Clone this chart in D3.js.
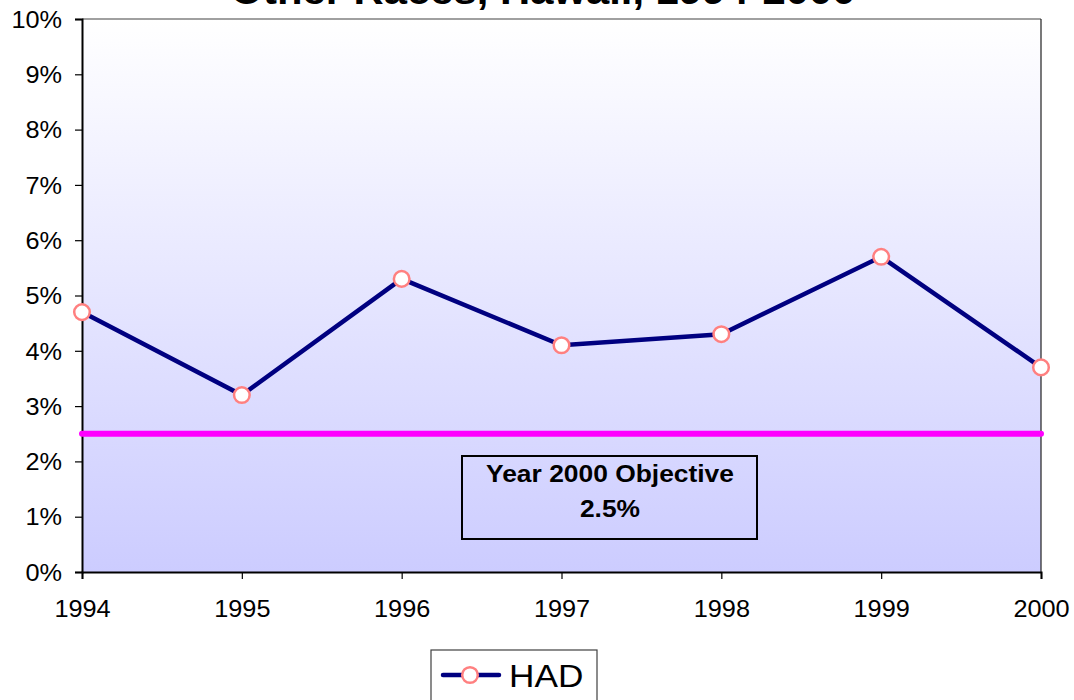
<!DOCTYPE html>
<html>
<head>
<meta charset="utf-8">
<script src="https://cdn.jsdelivr.net/npm/d3@7/dist/d3.min.js"></script>
<style>
  html, body { margin: 0; padding: 0; background: #fff; }
  svg { display: block; font-family: Arial, "Liberation Sans", sans-serif; }
</style>
</head>
<body>
<svg id="chart" width="1074" height="700"></svg>
<script>
// HAD percentages by year, with the Year 2000 objective
const years = ["1994", "1995", "1996", "1997", "1998", "1999", "2000"];
const hadValues = [4.7, 3.2, 5.3, 4.1, 4.3, 5.7, 3.7];
const objective = 2.5;
const yTicks = [0, 1, 2, 3, 4, 5, 6, 7, 8, 9, 10];
const titleText = "Other Races, Hawaii, 1994-2000";
const seriesName = "HAD";
const boxLines = ["Year 2000 Objective", "2.5%"];

const svg = d3.select("#chart");
const plot = { left: 82, right: 1041, top: 19, bottom: 572 };
const stretch = 1.1; // text is slightly wide

const x = d3.scalePoint().domain(years).range([plot.left, plot.right]);
const y = d3.scaleLinear().domain([0, 10]).range([plot.bottom, plot.top]);

// plot area gradient
const defs = svg.append("defs");
const grad = defs.append("linearGradient").attr("id", "bg")
  .attr("x1", 0).attr("y1", 0).attr("x2", 0).attr("y2", 1);
grad.append("stop").attr("offset", "0%").attr("stop-color", "#ffffff");
grad.append("stop").attr("offset", "100%").attr("stop-color", "#ccccff");

svg.append("rect")
  .attr("x", plot.left).attr("y", plot.top)
  .attr("width", plot.right - plot.left).attr("height", plot.bottom - plot.top)
  .attr("fill", "url(#bg)");

// top and right frame
svg.append("line").attr("x1", plot.left).attr("x2", plot.right)
  .attr("y1", plot.top).attr("y2", plot.top)
  .attr("stroke", "#808080").attr("stroke-width", 1.5);
svg.append("line").attr("x1", plot.right).attr("x2", plot.right)
  .attr("y1", plot.top).attr("y2", plot.bottom)
  .attr("stroke", "#202020").attr("stroke-width", 1.2);

// title (runs off the top edge)
svg.append("text")
  .attr("transform", `translate(543,4) scale(${stretch},1)`)
  .attr("text-anchor", "middle")
  .attr("font-size", 38).attr("font-weight", "bold").attr("fill", "#000")
  .text(titleText);

// y axis
const yAxis = svg.append("g")
  .attr("transform", `translate(${plot.left},0)`)
  .call(d3.axisLeft(y).tickValues(yTicks).tickSize(7).tickPadding(0)
    .tickFormat(d => d + "%"));
yAxis.select(".domain").attr("stroke", "#000").attr("stroke-width", 2);
yAxis.selectAll(".tick line").attr("stroke", "#000").attr("stroke-width", 1.2);
yAxis.selectAll(".tick text")
  .attr("x", -20 / stretch).attr("dy", "0.36em")
  .attr("transform", `scale(${stretch},1)`)
  .attr("font-size", 23).attr("font-family", "Arial, 'Liberation Sans', sans-serif")
  .attr("fill", "#000");

// x axis
const xAxis = svg.append("g")
  .attr("transform", `translate(0,${plot.bottom})`)
  .call(d3.axisBottom(x).tickSize(7).tickPadding(0));
xAxis.select(".domain").attr("stroke", "#000").attr("stroke-width", 2);
xAxis.selectAll(".tick line").attr("stroke", "#000").attr("stroke-width", 1.2);
xAxis.selectAll(".tick text")
  .attr("y", 45).attr("dy", "0")
  .attr("transform", `scale(${stretch},1)`)
  .attr("font-size", 23).attr("font-family", "Arial, 'Liberation Sans', sans-serif")
  .attr("fill", "#000");

// objective line
svg.append("line")
  .attr("x1", plot.left).attr("x2", plot.right)
  .attr("y1", y(objective)).attr("y2", y(objective))
  .attr("stroke", "#ff00ff").attr("stroke-width", 6)
  .attr("stroke-linecap", "round");

// objective label box
const box = svg.append("g");
box.append("rect")
  .attr("x", 462).attr("y", 456).attr("width", 295).attr("height", 83)
  .attr("fill", "none").attr("stroke", "#000").attr("stroke-width", 2);
boxLines.forEach((t, i) => {
  box.append("text")
    .attr("transform", `translate(610,${482 + i * 35}) scale(${stretch},1)`)
    .attr("text-anchor", "middle")
    .attr("font-size", 24).attr("font-weight", "bold").attr("fill", "#000")
    .text(t);
});

// HAD series
const data = years.map((yr, i) => ({ year: yr, value: hadValues[i] }));
svg.append("path")
  .datum(data)
  .attr("fill", "none").attr("stroke", "#000080").attr("stroke-width", 4.5)
  .attr("stroke-linejoin", "miter")
  .attr("d", d3.line().x(d => x(d.year)).y(d => y(d.value)));

svg.selectAll("circle.pt")
  .data(data).join("circle").attr("class", "pt")
  .attr("cx", d => x(d.year)).attr("cy", d => y(d.value))
  .attr("r", 7.8)
  .attr("fill", "#fff").attr("stroke", "#ff8080").attr("stroke-width", 2.5);

// legend
const legend = svg.append("g");
legend.append("rect")
  .attr("x", 431).attr("y", 650).attr("width", 166).attr("height", 60)
  .attr("fill", "#fff").attr("stroke", "#404040").attr("stroke-width", 1.2);
legend.append("line")
  .attr("x1", 443).attr("x2", 499).attr("y1", 675).attr("y2", 675)
  .attr("stroke", "#000080").attr("stroke-width", 4.5).attr("stroke-linecap", "round");
legend.append("circle")
  .attr("cx", 470).attr("cy", 675).attr("r", 7.8)
  .attr("fill", "#fff").attr("stroke", "#ff8080").attr("stroke-width", 2.5);
legend.append("text")
  .attr("transform", `translate(509,687) scale(${stretch},1)`)
  .attr("font-size", 32).attr("fill", "#000")
  .text(seriesName);
</script>
</body>
</html>
